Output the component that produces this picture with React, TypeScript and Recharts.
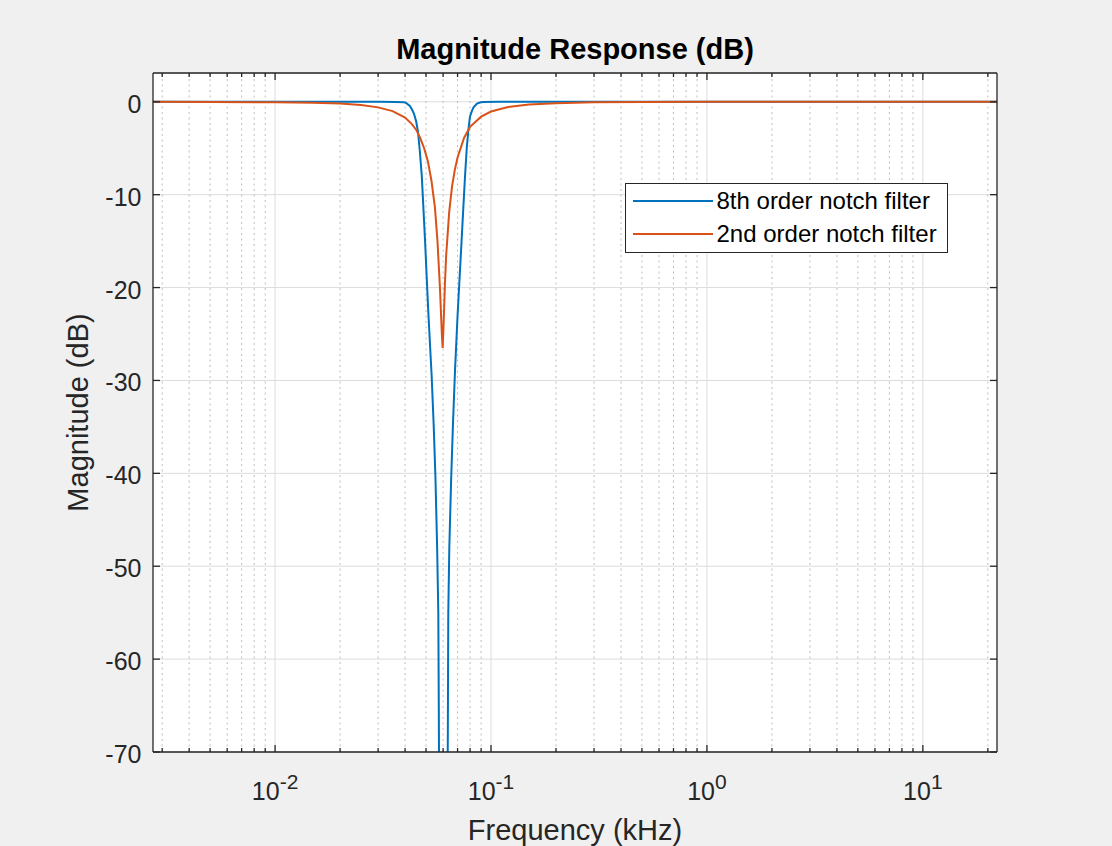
import {
  LineChart,
  Line,
  XAxis,
  YAxis,
  CartesianGrid,
  ReferenceLine,
  Legend,
} from "recharts";

// axis ranges (kHz / dB)
const freqDomain = [0.00272, 22.05];
const dbDomain = [-70, 3.1];

const majorFreqTicks = [0.01, 0.1, 1, 10];
const majorFreqExponents = ["-2", "-1", "0", "1"];
const minorFreqTicks = [
  0.003, 0.004, 0.005, 0.006, 0.007, 0.008, 0.009,
  0.02, 0.03, 0.04, 0.05, 0.06, 0.07, 0.08, 0.09,
  0.2, 0.3, 0.4, 0.5, 0.6, 0.7, 0.8, 0.9,
  2, 3, 4, 5, 6, 7, 8, 9,
  20,
];
const allFreqTicks = [...majorFreqTicks, ...minorFreqTicks].sort((a, b) => a - b);
const dbTicks = [-70, -60, -50, -40, -30, -20, -10, 0];

const seriesNames = ["8th order notch filter", "2nd order notch filter"];
const seriesColors = ["#0072BD", "#D95319"];

// 8th order notch
const notch8Freq = [
  0.00272, 0.013, 0.0306, 0.036, 0.0395, 0.0404, 0.0421, 0.043, 0.044, 0.045,
  0.0459, 0.0468, 0.0478, 0.0495, 0.0512, 0.0531, 0.0543, 0.0553, 0.0563,
  0.057, 0.0573, 0.0576, 0.06, 0.0627, 0.0631, 0.0634, 0.0641, 0.0654,
  0.0667, 0.0681, 0.07, 0.0719, 0.0744, 0.0758, 0.0772, 0.0786, 0.0799,
  0.0815, 0.083, 0.0861, 0.089, 0.0918, 0.11, 22.05,
];
const notch8Db = [
  0, 0, 0, -0.01, -0.05, -0.12, -0.45, -0.8, -1.3, -2.1,
  -3.2, -5.3, -8, -15, -22.5, -29.5, -35, -40.5, -48,
  -55, -65, -78, -100, -80, -68, -55, -48, -40.5,
  -34.5, -29, -23, -18, -11.5, -8, -5, -3.0, -1.6,
  -1.0, -0.6, -0.2, -0.08, -0.03, 0, 0,
];

// 2nd order notch
const notch2Freq = [
  0.00272, 0.005, 0.01, 0.015, 0.02, 0.025, 0.03, 0.035, 0.04, 0.043,
  0.045, 0.047, 0.049, 0.051, 0.053, 0.055, 0.0565, 0.058, 0.0592, 0.0597,
  0.0603, 0.0612, 0.062, 0.064, 0.066, 0.068, 0.07, 0.075, 0.08, 0.09,
  0.1, 0.12, 0.15, 0.2, 0.3, 0.5, 1, 22.05,
];
const notch2Db = [
  0, -0.01, -0.05, -0.1, -0.19, -0.35, -0.6, -1.0, -1.7, -2.4,
  -3.0, -3.9, -5.0, -6.4, -8.5, -11.4, -15, -20, -25, -26.5,
  -24, -19.5, -16.5, -11.9, -9.1, -7.3, -6.0, -3.9, -2.7, -1.6,
  -1.05, -0.56, -0.3, -0.15, -0.06, -0.02, -0.005, 0,
];

const notch8Data = notch8Freq.map((f, i) => ({ f, db: notch8Db[i] }));
const notch2Data = notch2Freq.map((f, i) => ({ f, db: notch2Db[i] }));

const AXIS = "#262626";
const FONT = '"Liberation Sans", Arial, Helvetica, sans-serif';

function BottomTick({ x, y, payload }: any) {
  const i = majorFreqTicks.indexOf(payload.value);
  const major = i >= 0;
  return (
    <g>
      <line x1={x} y1={y} x2={x} y2={y - (major ? 7 : 4)} stroke={AXIS} strokeWidth={1.3} />
      {major && (
        <text x={x} y={y + 48} textAnchor="middle" fontFamily={FONT} fontSize={25} fill={AXIS}>
          10
          <tspan dy={-11} fontSize={21}>
            {majorFreqExponents[i]}
          </tspan>
        </text>
      )}
    </g>
  );
}

function TopTick({ x, y, payload }: any) {
  const major = majorFreqTicks.includes(payload.value);
  return <line x1={x} y1={y} x2={x} y2={y + (major ? 7 : 4)} stroke={AXIS} strokeWidth={1.3} />;
}

function LeftTick({ x, y, payload }: any) {
  return (
    <g>
      <line x1={x} y1={y} x2={x + 7} y2={y} stroke={AXIS} strokeWidth={1.3} />
      <text x={x - 11.5} y={y + 11} textAnchor="end" fontFamily={FONT} fontSize={25} fill={AXIS}>
        {payload.value}
      </text>
    </g>
  );
}

function RightTick({ x, y }: any) {
  return <line x1={x} y1={y} x2={x - 7} y2={y} stroke={AXIS} strokeWidth={1.3} />;
}

function LegendBox() {
  return (
    <div
      style={{
        boxSizing: "border-box",
        width: 323,
        height: 70,
        border: `1.5px solid ${AXIS}`,
        background: "#fff",
        paddingTop: 0.5,
        fontFamily: FONT,
        fontSize: 24,
        color: "#000",
      }}
    >
      {seriesNames.map((name, i) => (
        <div key={name} style={{ display: "flex", alignItems: "center", height: 33.3 }}>
          <svg width={80} height={4} style={{ marginLeft: 6.5, marginRight: 4 }}>
            <line x1={0} y1={2} x2={80} y2={2} stroke={seriesColors[i]} strokeWidth={2} />
          </svg>
          <span>{name}</span>
        </div>
      ))}
    </div>
  );
}

export default function App() {
  return (
    <div
      style={{
        position: "absolute",
        left: 0,
        top: 0,
        width: 1112,
        height: 846,
        background: "#f0f0f0",
        fontFamily: FONT,
      }}
    >
      <LineChart width={1112} height={846} margin={{ top: 72, right: 114, bottom: 0, left: 0 }}>
        <CartesianGrid xAxisId="x" yAxisId="y" vertical={false} stroke="#dcdcdc" fill="#fff" />
        {majorFreqTicks.map((v) => (
          <ReferenceLine key={`maj-${v}`} x={v} xAxisId="x" yAxisId="y" stroke="#dcdcdc" />
        ))}
        {minorFreqTicks.map((v) => (
          <ReferenceLine
            key={`min-${v}`}
            x={v}
            xAxisId="x"
            yAxisId="y"
            stroke="#bdbdbd"
            strokeDasharray="2 3.5"
          />
        ))}
        <XAxis
          xAxisId="x"
          dataKey="f"
          type="number"
          scale="log"
          domain={freqDomain}
          allowDataOverflow
          ticks={allFreqTicks}
          interval={0}
          height={94}
          tickSize={0}
          tickMargin={0}
          tickLine={false}
          tick={<BottomTick />}
          axisLine={{ stroke: AXIS, strokeWidth: 1.3 }}
          label={{
            value: "Frequency (kHz)",
            position: "insideBottom",
            offset: 6,
            fill: AXIS,
            fontSize: 29,
            fontFamily: FONT,
          }}
        />
        <XAxis
          xAxisId="top"
          orientation="top"
          dataKey="f"
          type="number"
          scale="log"
          domain={freqDomain}
          allowDataOverflow
          ticks={allFreqTicks}
          interval={0}
          height={1}
          tickSize={0}
          tickMargin={0}
          tickLine={false}
          tick={<TopTick />}
          axisLine={{ stroke: AXIS, strokeWidth: 1.3 }}
          label={{
            value: "Magnitude Response (dB)",
            position: "top",
            offset: 13.5,
            fill: "#000",
            fontSize: 29,
            fontWeight: "bold",
            fontFamily: FONT,
          }}
        />
        <YAxis
          yAxisId="y"
          type="number"
          domain={dbDomain}
          allowDataOverflow
          ticks={dbTicks}
          interval={0}
          width={153}
          tickSize={0}
          tickMargin={0}
          tickLine={false}
          tick={<LeftTick />}
          axisLine={{ stroke: AXIS, strokeWidth: 1.3 }}
          label={{
            value: "Magnitude (dB)",
            angle: -90,
            position: "insideLeft",
            offset: 78,
            fill: AXIS,
            fontSize: 29,
            fontFamily: FONT,
            style: { textAnchor: "middle" },
          }}
        />
        <YAxis
          yAxisId="r"
          orientation="right"
          type="number"
          domain={dbDomain}
          allowDataOverflow
          ticks={dbTicks}
          interval={0}
          width={1}
          tickSize={0}
          tickMargin={0}
          tickLine={false}
          tick={<RightTick />}
          axisLine={{ stroke: AXIS, strokeWidth: 1.3 }}
        />
        <Legend
          layout="horizontal"
          verticalAlign="middle"
          align="center"
          wrapperStyle={{ left: 625, top: 183, width: 323, height: 70 }}
          content={() => <LegendBox />}
        />
        {/* invisible copy so the top/right box axes have data */}
        <Line
          xAxisId="top"
          yAxisId="r"
          data={notch2Data}
          dataKey="db"
          stroke="none"
          dot={false}
          activeDot={false}
          legendType="none"
          isAnimationActive={false}
        />
        <Line
          xAxisId="x"
          yAxisId="y"
          data={notch8Data}
          dataKey="db"
          name={seriesNames[0]}
          type="linear"
          stroke={seriesColors[0]}
          strokeWidth={2}
          dot={false}
          activeDot={false}
          isAnimationActive={false}
        />
        <Line
          xAxisId="x"
          yAxisId="y"
          data={notch2Data}
          dataKey="db"
          name={seriesNames[1]}
          type="linear"
          stroke={seriesColors[1]}
          strokeWidth={2}
          dot={false}
          activeDot={false}
          isAnimationActive={false}
        />
      </LineChart>
    </div>
  );
}
